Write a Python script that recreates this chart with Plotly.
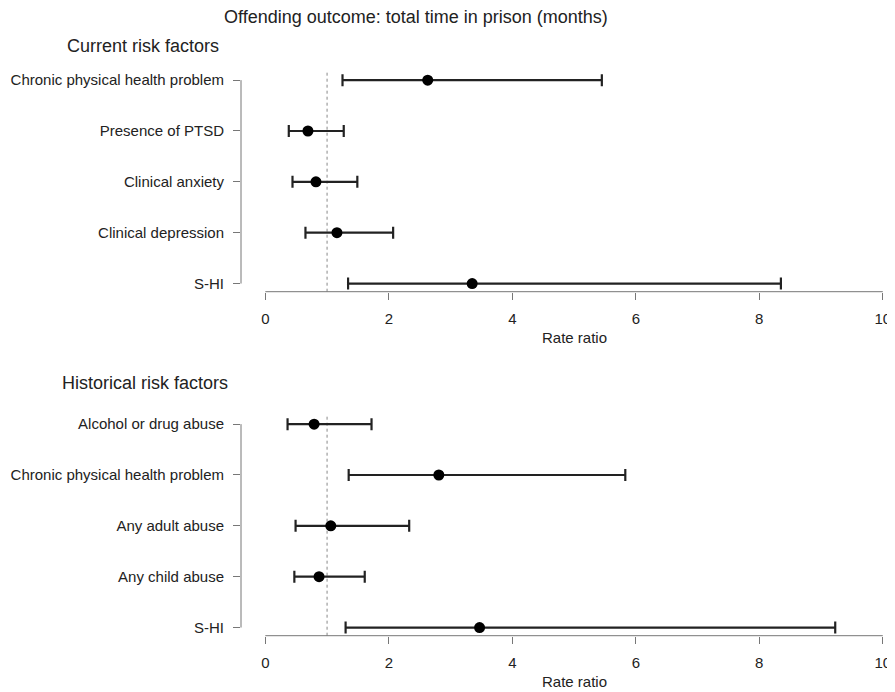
import plotly.graph_objects as go

# ---- data ----
current_labels = ["Chronic physical health problem", "Presence of PTSD", "Clinical anxiety",
                  "Clinical depression", "S-HI"]
current_est = [2.63, 0.69, 0.82, 1.16, 3.35]
current_lo = [1.25, 0.38, 0.44, 0.65, 1.34]
current_hi = [5.45, 1.27, 1.49, 2.07, 8.35]

hist_labels = ["Alcohol or drug abuse", "Chronic physical health problem", "Any adult abuse",
               "Any child abuse", "S-HI"]
hist_est = [0.79, 2.81, 1.06, 0.87, 3.47]
hist_lo = [0.36, 1.35, 0.49, 0.47, 1.30]
hist_hi = [1.72, 5.83, 2.33, 1.61, 9.23]

x_ticks = [0, 2, 4, 6, 8, 10]
ref_line = 1

# page body has an 8px margin; figure sized to end at the window edge
OFF = 8
W, H = 895 - OFF, 692 - OFF
FONT = "Liberation Sans, Arial, sans-serif"
AX = "#777777"
TXT = "#222222"

fig = go.Figure()

panels = [
    (current_labels, current_est, current_lo, current_hi, "x", "y"),
    (hist_labels, hist_est, hist_lo, hist_hi, "x2", "y2"),
]
for labels, est, lo, hi, xa, ya in panels:
    pos = list(range(1, len(labels) + 1))
    fig.add_trace(go.Scatter(
        x=est, y=pos, mode="markers", xaxis=xa, yaxis=ya,
        marker=dict(color="black", size=11),
        error_x=dict(type="data", symmetric=False,
                     array=[h - e for h, e in zip(hi, est)],
                     arrayminus=[e - l for e, l in zip(est, lo)],
                     color="#222222", thickness=2.2, width=6),
        showlegend=False, hoverinfo="skip"))


def py(p):
    """screen pixel y -> paper fraction"""
    return 1 - (p - OFF) / H


LEFT = 241  # screen x of plot-area left edge
dom_top = [py(291.7), py(72)]
dom_bot = [py(635.7), py(416)]
xr = [-0.394, 10.198]

common_x = dict(range=xr, tickvals=x_ticks, ticktext=[str(v) for v in x_ticks],
                showline=False, showgrid=False, zeroline=False, ticks="outside",
                ticklen=7, tickcolor=AX, tickwidth=1, ticklabelstandoff=6,
                tickfont=dict(family=FONT, size=15, color=TXT))
common_y = dict(showline=False, showgrid=False, zeroline=False, ticks="outside",
                ticklen=7, tickcolor=AX, tickwidth=1, ticklabelstandoff=6,
                tickfont=dict(family=FONT, size=15, color=TXT))

fig.update_layout(
    width=W, height=H, plot_bgcolor="white", paper_bgcolor="white",
    margin=dict(l=LEFT - OFF, r=0, t=0, b=0),
    font=dict(family=FONT),
    xaxis=dict(domain=[0, 1], anchor="y", **common_x),
    yaxis=dict(domain=dom_top, anchor="x", range=[5.16, 0.84],
               tickvals=list(range(1, 6)), ticktext=current_labels, **common_y),
    xaxis2=dict(domain=[0, 1], anchor="y2", **common_x),
    yaxis2=dict(domain=dom_bot, anchor="x2", range=[5.16, 0.84],
                tickvals=list(range(1, 6)), ticktext=hist_labels, **common_y),
)

shapes = []
for xa, ya, labels in [("x", "y", current_labels), ("x2", "y2", hist_labels)]:
    shapes.append(dict(type="line", xref=xa, yref=f"{ya} domain", x0=x_ticks[0], x1=x_ticks[-1],
                       y0=0, y1=0, line=dict(color=AX, width=1)))
    shapes.append(dict(type="line", xref=f"{xa} domain", yref=ya, x0=0, x1=0,
                       y0=1, y1=len(labels), line=dict(color=AX, width=1)))
    shapes.append(dict(type="line", xref=xa, yref=f"{ya} domain", x0=ref_line, x1=ref_line,
                       y0=0, y1=1, line=dict(color="#888888", width=1, dash="dot"), layer="below"))
fig.update_layout(shapes=shapes)


def pxp(x):
    """screen pixel x -> paper fraction (paper spans the plot area)"""
    return (x - LEFT) / (895 - LEFT)


annotations = []
for text, x, y, size in [
    ("Offending outcome: total time in prison (months)", 416, 17, 18),
    ("Current risk factors", 143, 46, 18),
    ("Historical risk factors", 145, 383, 18),
    ("Rate ratio", 574, 337, 15),
    ("Rate ratio", 574, 681, 15),
]:
    annotations.append(dict(text=text, xref="paper", yref="paper", x=pxp(x), y=py(y),
                            xanchor="center", yanchor="middle", showarrow=False,
                            font=dict(family=FONT, size=size, color=TXT)))
fig.update_layout(annotations=annotations)

fig.write_html("out.html")
